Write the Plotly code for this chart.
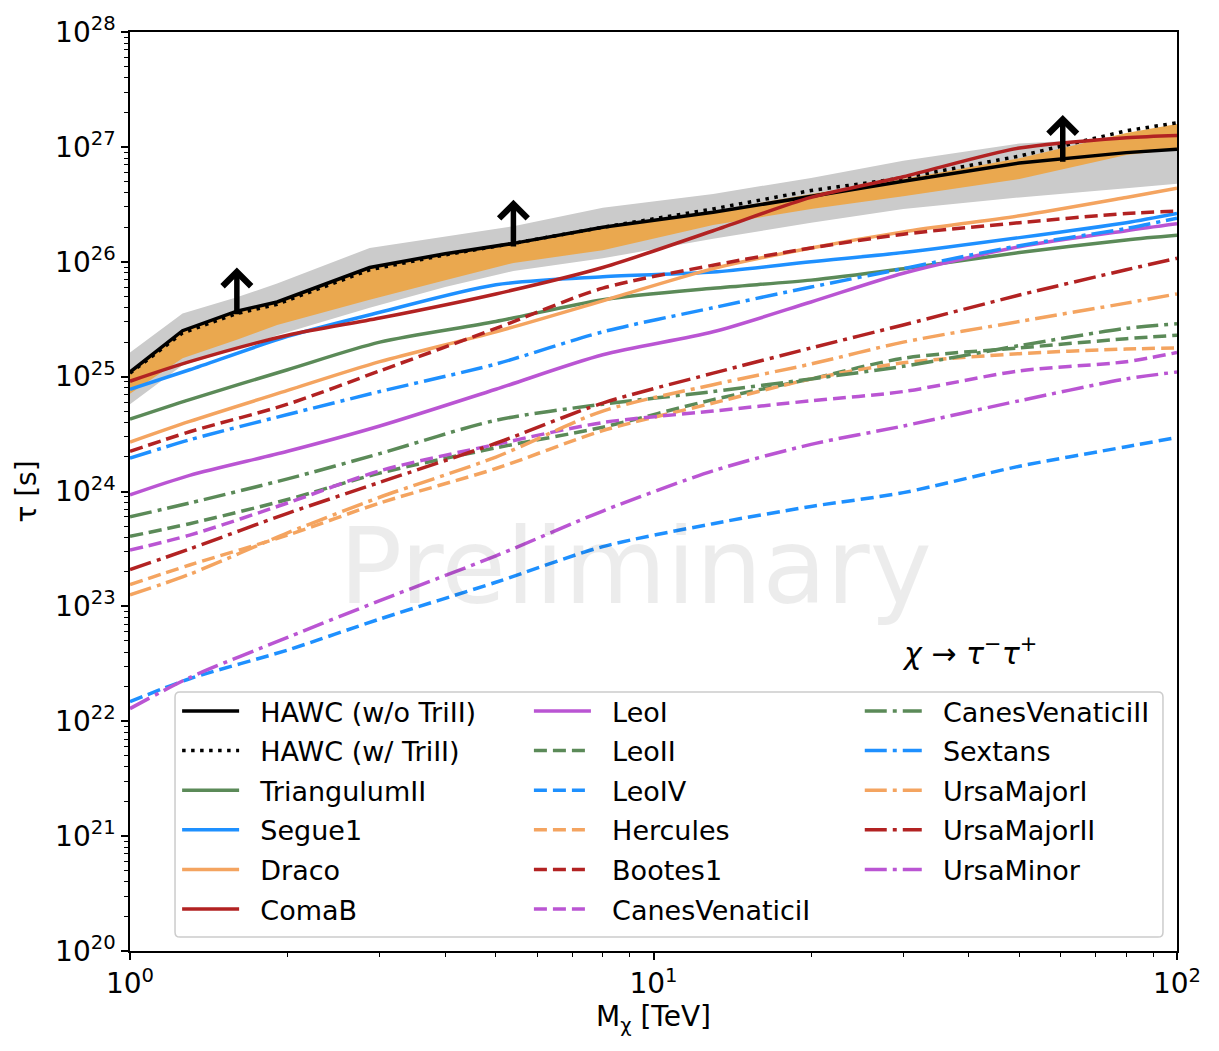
import numpy as np
import plotly.graph_objects as go

# ---------------- data (log10 of tau [s]) ----------------
mass_hawc = [1, 1.26, 1.6, 1.91, 2.87, 4, 5.4, 8, 13, 20, 30, 50, 80, 100]
hawc_wo_trill = [25.04, 25.40, 25.57, 25.65, 25.95, 26.07, 26.16, 26.30, 26.43, 26.57, 26.70, 26.86, 26.95, 26.98]
hawc_w_trill = [25.03, 25.38, 25.55, 25.63, 25.93, 26.06, 26.16, 26.30, 26.46, 26.62, 26.73, 26.92, 27.14, 27.21]
band68_low = [24.85, 25.16, 25.32, 25.45, 25.67, 25.84, 25.99, 26.10, 26.32, 26.46, 26.57, 26.72, 26.93, 26.98]
band68_high = [25.04, 25.40, 25.56, 25.64, 25.94, 26.06, 26.15, 26.29, 26.44, 26.59, 26.72, 26.90, 27.12, 27.20]
band95_low = [24.76, 25.10, 25.24, 25.36, 25.60, 25.78, 25.92, 26.03, 26.20, 26.34, 26.46, 26.56, 26.64, 26.68]
band95_high = [25.21, 25.55, 25.69, 25.81, 26.12, 26.22, 26.31, 26.47, 26.59, 26.73, 26.88, 27.03, 27.08, 27.09]
arrow_mass = [1.6, 5.4, 60.5]

mass = [1, 1.3, 2, 3, 5, 8, 13, 20, 30, 50, 80, 100]
triangulum2 = [24.63, 24.80, 25.06, 25.30, 25.48, 25.67, 25.77, 25.84, 25.94, 26.08, 26.19, 26.23]
segue1 = [24.89, 25.06, 25.35, 25.56, 25.80, 25.87, 25.91, 26.00, 26.08, 26.21, 26.34, 26.42]
draco = [24.43, 24.61, 24.88, 25.13, 25.39, 25.66, 25.94, 26.12, 26.26, 26.40, 26.56, 26.64]
comab = [24.96, 25.13, 25.36, 25.51, 25.72, 25.95, 26.27, 26.56, 26.74, 26.99, 27.08, 27.10]
leo1 = [23.97, 24.14, 24.35, 24.57, 24.89, 25.19, 25.39, 25.65, 25.90, 26.13, 26.27, 26.33]
leo2 = [23.61, 23.72, 23.93, 24.16, 24.38, 24.56, 24.80, 24.98, 25.16, 25.25, 25.33, 25.36]
leo4 = [22.17, 22.37, 22.62, 22.89, 23.21, 23.52, 23.72, 23.87, 23.99, 24.22, 24.39, 24.47]
hercules = [23.19, 23.36, 23.62, 23.90, 24.20, 24.53, 24.77, 24.98, 25.12, 25.20, 25.24, 25.25]
bootes1 = [24.35, 24.52, 24.76, 25.05, 25.42, 25.77, 25.97, 26.12, 26.24, 26.34, 26.42, 26.44]
canesven1 = [23.49, 23.62, 23.90, 24.18, 24.41, 24.60, 24.70, 24.79, 24.87, 25.05, 25.13, 25.21]
canesven2 = [23.78, 23.90, 24.11, 24.33, 24.62, 24.76, 24.87, 24.98, 25.09, 25.27, 25.42, 25.46]
sextans = [24.29, 24.45, 24.67, 24.87, 25.11, 25.39, 25.60, 25.78, 25.94, 26.14, 26.29, 26.38]
ursamajor1 = [23.10, 23.28, 23.64, 23.95, 24.30, 24.70, 24.93, 25.11, 25.30, 25.48, 25.64, 25.72]
ursamajor2 = [23.32, 23.50, 23.81, 24.08, 24.42, 24.77, 25.03, 25.25, 25.45, 25.71, 25.93, 26.03]
ursaminor = [22.11, 22.38, 22.73, 23.05, 23.44, 23.83, 24.18, 24.41, 24.57, 24.79, 24.98, 25.04]

y_tick_exps = list(range(20, 29))
x_tick_exps = [0, 1, 2]

# ---------------- style ----------------
GREEN = "#5b8a58"
BLUE = "#1e90ff"
SANDY = "#f4a460"
RED = "#b22222"
ORCHID = "#ba55d3"
DASH = "13px,6px"
DASHDOT = "22px,6px,4px,6px"
DOT = "3.5px,5.5px"
FONT = "DejaVu Sans"
GAP = "\u2002\u200a"   # space between legend sample and label

dwarfs = [
    ("TriangulumII", triangulum2, GREEN, "solid", "legend"),
    ("Segue1", segue1, BLUE, "solid", "legend"),
    ("Draco", draco, SANDY, "solid", "legend"),
    ("ComaB", comab, RED, "solid", "legend"),
    ("LeoI", leo1, ORCHID, "solid", "legend2"),
    ("LeoII", leo2, GREEN, DASH, "legend2"),
    ("LeoIV", leo4, BLUE, DASH, "legend2"),
    ("Hercules", hercules, SANDY, DASH, "legend2"),
    ("Bootes1", bootes1, RED, DASH, "legend2"),
    ("CanesVenaticiI", canesven1, ORCHID, DASH, "legend2"),
    ("CanesVenaticiII", canesven2, GREEN, DASHDOT, "legend3"),
    ("Sextans", sextans, BLUE, DASHDOT, "legend3"),
    ("UrsaMajorI", ursamajor1, SANDY, DASHDOT, "legend3"),
    ("UrsaMajorII", ursamajor2, RED, DASHDOT, "legend3"),
    ("UrsaMinor", ursaminor, ORCHID, DASHDOT, "legend3"),
]

def tau(v):
    return (10.0 ** np.asarray(v, dtype=float)).tolist()

fig = go.Figure()

# bands
fig.add_trace(go.Scatter(
    x=list(mass_hawc) + list(mass_hawc[::-1]),
    y=tau(list(band95_high) + list(band95_low[::-1])),
    fill="toself", fillcolor="#cbcbcb", line=dict(width=0),
    mode="lines", showlegend=False, hoverinfo="skip"))
fig.add_trace(go.Scatter(
    x=list(mass_hawc) + list(mass_hawc[::-1]),
    y=tau(list(band68_high) + list(band68_low[::-1])),
    fill="toself", fillcolor="#eaa84f", line=dict(width=0),
    mode="lines", showlegend=False, hoverinfo="skip"))

# HAWC combined limits
fig.add_trace(go.Scatter(x=mass_hawc, y=tau(hawc_wo_trill), mode="lines",
                         name=GAP + "HAWC (w/o TriII)", legend="legend", legendrank=1,
                         legendgroup="hawc1",
                         line=dict(color="black", width=3.5)))
fig.add_trace(go.Scatter(x=mass_hawc, y=tau(hawc_w_trill), mode="lines",
                         name=GAP + "HAWC (w/ TriII)", legend="legend", legendrank=2,
                         legendgroup="hawc2",
                         line=dict(color="black", width=3.5, dash=DOT)))

for i, (name, vals, col, dash, leg) in enumerate(dwarfs):
    fig.add_trace(go.Scatter(x=mass, y=tau(vals), mode="lines", name=GAP + name,
                             legend=leg, legendrank=10 + i, legendgroup=name,
                             line=dict(color=col, width=3.5, dash=dash,
                                       shape="spline", smoothing=0.8)))

# arrows on the HAWC limit
lm = np.log10(mass_hawc)
for m in arrow_mass:
    base = float(np.interp(np.log10(m), lm, hawc_wo_trill))
    lx = float(np.log10(m))
    fig.add_annotation(x=lx, y=base + 0.38, ax=lx, ay=base - 0.04,
                       xref="x", yref="y", axref="x", ayref="y", text="",
                       showarrow=True, arrowhead=4, arrowsize=1.0, arrowwidth=5.5,
                       arrowcolor="black")

# watermark and channel label
fig.add_annotation(text="Preliminary", xref="paper", yref="paper", x=0.4825, y=0.418,
                   showarrow=False, font=dict(family=FONT, size=105, color="rgba(0,0,0,0.075)"))
fig.add_annotation(text="<i>χ</i> → <i>τ</i><sup>−</sup><i>τ</i><sup>+</sup>", xref="paper", yref="paper",
                   x=0.735, y=0.3264, xanchor="left", yanchor="middle", showarrow=False,
                   font=dict(family=FONT, size=30, color="black"))

# legend frame (rounded rectangle)
x0, x1, y0, y1 = 0.043, 0.9866, 0.0151, 0.2819
rx, ry = 5 / 1047, 5 / 926
frame_path = (f"M{x0 + rx},{y0} L{x1 - rx},{y0} Q{x1},{y0} {x1},{y0 + ry} "
              f"L{x1},{y1 - ry} Q{x1},{y1} {x1 - rx},{y1} "
              f"L{x0 + rx},{y1} Q{x0},{y1} {x0},{y1 - ry} "
              f"L{x0},{y0 + ry} Q{x0},{y0} {x0 + rx},{y0} Z")
fig.add_shape(type="path", xref="paper", yref="paper", path=frame_path,
              line=dict(color="#cccccc", width=1.5), fillcolor="rgba(255,255,255,0.8)", layer="above")

leg_common = dict(font=dict(family=FONT, size=27, color="black"), bgcolor="rgba(0,0,0,0)",
                  borderwidth=0, yanchor="top", xanchor="left", y=0.2873, itemwidth=57,
                  traceorder="grouped", tracegroupgap=1.5)
fig.update_layout(
    width=1219, height=1051,
    margin=dict(l=130, r=42, t=25, b=100),
    paper_bgcolor="white", plot_bgcolor="white",
    font=dict(family=FONT, size=27, color="black"),
    legend=dict(x=0.045, **leg_common),
    legend2=dict(x=0.381, **leg_common),
    legend3=dict(x=0.697, **leg_common),
)

x_major = [float(10.0 ** k) for k in x_tick_exps]
x_minor = [float(d * 10.0 ** k) for k in x_tick_exps[:-1] for d in range(2, 10)]
y_major = [float(10.0 ** k) for k in y_tick_exps]
y_minor = [float(d * 10.0 ** k) for k in y_tick_exps[:-1] for d in range(2, 10)]

fig.update_xaxes(
    type="log", range=[0, 2], showgrid=False, zeroline=False,
    showline=True, linecolor="black", linewidth=1.5, mirror=True,
    ticks="outside", ticklen=7, tickwidth=1.5, tickcolor="black",
    tickmode="array", tickvals=x_major,
    ticktext=[f"10<sup>{k}</sup>" for k in x_tick_exps],
    tickfont=dict(family=FONT, size=28),
    minor=dict(tickmode="array", tickvals=x_minor,
               ticks="outside", ticklen=4, tickwidth=1, tickcolor="black"),
    title=dict(text="M<sub>χ</sub> [TeV]", font=dict(family=FONT, size=28), standoff=6),
)
fig.update_yaxes(
    type="log", range=[20, 28], showgrid=False, zeroline=False,
    showline=True, linecolor="black", linewidth=1.5, mirror=True,
    ticks="outside", ticklen=7, tickwidth=1.5, tickcolor="black",
    tickmode="array", tickvals=y_major,
    ticktext=[f"10<sup>{k}</sup>" for k in y_tick_exps],
    tickfont=dict(family=FONT, size=28),
    minor=dict(tickmode="array", tickvals=y_minor,
               ticks="outside", ticklen=4, tickwidth=1, tickcolor="black"),
    title=dict(text="τ [s]", font=dict(family=FONT, size=28), standoff=10),
)

fig.write_html("out.html")
